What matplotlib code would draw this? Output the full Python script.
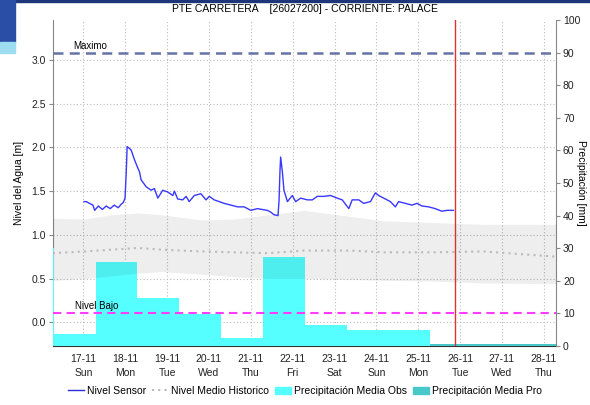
import matplotlib
matplotlib.use("Agg")
import matplotlib.pyplot as plt
import numpy as np
from matplotlib.lines import Line2D
from matplotlib.patches import Patch, Rectangle

plt.rcParams["font.family"] = ["Liberation Sans", "DejaVu Sans"]

# x positions are in days counted from 17-11 00:00
DAY_TICKS = list(range(12))
DAY_LABELS = ["17-11\nSun", "18-11\nMon", "19-11\nTue", "20-11\nWed", "21-11\nThu",
              "22-11\nFri", "23-11\nSat", "24-11\nSun", "25-11\nMon", "26-11\nTue",
              "27-11\nWed", "28-11\nThu"]

# sensor readings: hours since 17-11 00:00, level in m
SENSOR_HOURS = [0.4, 1.7, 3.5, 5.5, 6.5, 8.6, 10.9, 13.1, 15.4, 17.7, 20.0, 21.7,
                22.9, 23.9, 24.6, 25.1, 26.3, 27.4, 29.3, 30.9, 32.2, 33.1, 36.0,
                38.9, 40.7, 42.7, 45.5, 48.4, 51.3, 52.2, 54.1, 57.0, 58.9, 60.7,
                63.6, 67.4, 70.3, 72.2, 75.0, 77.9, 80.7, 84.6, 88.4, 92.2, 96.0,
                99.8, 102.5, 105.5, 107.4, 109.3, 111.6, 112.2, 112.7, 113.1, 114.1,
                115.0, 117.0, 119.8, 121.7, 124.6, 128.4, 131.3, 134.1, 137.9, 141.7,
                145.5, 148.4, 152.2, 154.1, 157.9, 160.7, 164.6, 167.4, 169.3, 172.2,
                176.0, 178.9, 180.7, 184.6, 188.4, 191.3, 194.1, 197.9, 201.7, 205.5,
                208.4, 212.2]
SENSOR_LEVEL = [1.38, 1.38, 1.36, 1.34, 1.28, 1.33, 1.29, 1.33, 1.30, 1.34, 1.31, 1.35,
                1.37, 1.42, 1.72, 2.01, 1.99, 1.97, 1.86, 1.78, 1.72, 1.63, 1.55,
                1.51, 1.53, 1.42, 1.51, 1.49, 1.45, 1.50, 1.41, 1.40, 1.44, 1.38,
                1.45, 1.47, 1.40, 1.44, 1.40, 1.38, 1.36, 1.34, 1.32, 1.32, 1.28,
                1.30, 1.29, 1.28, 1.26, 1.23, 1.22, 1.40, 1.72, 1.89, 1.72,
                1.51, 1.38, 1.45, 1.38, 1.42, 1.40, 1.40, 1.44, 1.44, 1.45,
                1.42, 1.40, 1.30, 1.40, 1.40, 1.36, 1.38, 1.48, 1.45, 1.42,
                1.38, 1.32, 1.38, 1.36, 1.34, 1.36, 1.33, 1.32, 1.30, 1.27,
                1.28, 1.28]

# historical level envelope
HIST_DAYS = [-0.73, 0.03, 0.67, 1.30, 1.86, 2.81, 3.60, 4.40, 5.27, 6.38, 7.17, 8.36, 9.55, 11.29]
HIST_UPPER = [1.19, 1.18, 1.23, 1.25, 1.23, 1.17, 1.18, 1.23, 1.28, 1.21, 1.16, 1.14, 1.12, 1.12]
HIST_LOWER = [0.48, 0.50, 0.53, 0.56, 0.58, 0.55, 0.52, 0.50, 0.50, 0.49, 0.48, 0.47, 0.45, 0.44]
HIST_MEDIAN = [0.79, 0.81, 0.83, 0.85, 0.83, 0.81, 0.80, 0.79, 0.82, 0.82, 0.80, 0.80, 0.81, 0.75]

# daily rainfall, each bar from 07:00 to 07:00
OBS_START = [-1.708, -0.708, 0.292, 1.292, 2.292, 3.292, 4.292, 5.292, 6.292, 7.292]
OBS_MM = [30.0, 3.8, 25.7, 14.6, 9.8, 2.4, 27.2, 6.5, 4.8, 4.8]
PRO_START = [8.292, 9.292, 10.292]
PRO_MM = [0.6, 0.6, 0.7]

NIVEL_MAXIMO = 3.08
NIVEL_BAJO = 0.11
NOW_DAY = 8.88

fig = plt.figure(figsize=(5.9, 4.05), dpi=100)
fig.patches.append(Rectangle((0, 1 - 2 / 405), 1, 2 / 405, transform=fig.transFigure,
                             color="#1d3579", zorder=0))
fig.patches.append(Rectangle((0, 1 - 42 / 405), 15 / 590, 42 / 405, transform=fig.transFigure,
                             color="#2a4ea6", zorder=0))
fig.patches.append(Rectangle((0, 1 - 53 / 405), 15 / 590, 11 / 405, transform=fig.transFigure,
                             color="#9edcf0", zorder=0))

rect = [53 / 590, 1 - 346 / 405, 503 / 590, 326 / 405]
ax = fig.add_axes(rect)
ax2 = ax.twinx()
ax3 = ax.twinx()

xlim = (-0.725, 11.29)
ylim = (-0.272, 3.458)
grid_kw = dict(color="#bbbbbb", lw=0.8, ls=(0, (1, 2)))

# grid on the base axes
ax.set_xlim(*xlim)
ax.set_ylim(*ylim)
ax.set_xticks(DAY_TICKS)
ax.set_xticklabels(DAY_LABELS, fontsize=7.5, color="#222222", linespacing=1.5)
ax.set_yticks(np.arange(0, 3.01, 0.5))
ax.set_yticklabels([f"{v:.1f}" for v in np.arange(0, 3.01, 0.5)], fontsize=7.5, color="#222222")
ax.grid(True, **grid_kw)
ax.tick_params(axis="x", length=0, pad=6)
ax.tick_params(axis="y", length=3, color="#888888", pad=2)
ax.spines["top"].set_visible(False)
ax.spines["right"].set_visible(False)
ax.spines["left"].set_color("#888888")
ax.spines["bottom"].set_color("#333333")
ax.spines["bottom"].set_linestyle((0, (1, 1)))
ax.set_ylabel("Nivel del Agua [m]", fontsize=7.5)
ax.yaxis.set_label_coords(-0.058, 0.5)

# rainfall bars on the right axis
ax2.bar(OBS_START, OBS_MM, width=1.0, align="edge", color="#55ffff", lw=0)
ax2.bar(PRO_START, PRO_MM, width=1.0, align="edge", color="#48c8c8", lw=0)
ax2.set_ylim(0, 100)
ax2.set_xlim(*xlim)
ax2.set_yticks(range(0, 101, 10))
ax2.tick_params(axis="y", labelsize=7.5, length=3, color="#888888", labelcolor="#222222", pad=2)
ax2.spines["right"].set_color("#888888")
for s in ("top", "left", "bottom"):
    ax2.spines[s].set_visible(False)
ax2.set_ylabel("Precipitación [mm]", fontsize=7.5, rotation=270, ha="center", va="center")
ax2.yaxis.set_label_coords(1.049, 0.5)

# levels on top
ax3.set_xlim(*xlim)
ax3.set_ylim(*ylim)
ax3.set_yticks([])
for s in ax3.spines.values():
    s.set_visible(False)
ax3.fill_between(HIST_DAYS, HIST_LOWER, HIST_UPPER, color="black", alpha=0.065, lw=0)
ax3.plot(HIST_DAYS, HIST_MEDIAN, color="#bbbbbb", lw=1.5, ls=(0, (1, 2)))
sensor_days = np.array(SENSOR_HOURS) / 24.0
ax3.plot(sensor_days, SENSOR_LEVEL, color="#3838ff", lw=1.0)
ax3.axhline(NIVEL_MAXIMO, color="#6672a6", lw=1.8, ls=(0, (4, 2.5)))
ax3.axhline(NIVEL_BAJO, color="#ff3cff", lw=1.5, ls=(0, (4, 2.5)))
ax3.text(-0.24, NIVEL_MAXIMO + 0.02, "Maximo", fontsize=7, va="bottom", ha="left")
ax3.text(-0.21, NIVEL_BAJO + 0.02, "Nivel Bajo", fontsize=7, va="bottom", ha="left")
ax3.axvline(NOW_DAY, color="#dd3333", lw=1.0)

fig.text(305 / 590, 1 - 9 / 405, "PTE CARRETERA    [26027200] - CORRIENTE: PALACE",
         fontsize=7.5, ha="center", va="center")

handles = [
    Line2D([], [], color="#2a2ad8", lw=1.0),
    Line2D([], [], color="#bbbbbb", lw=1.5, ls=(0, (1, 2))),
    Patch(color="#55ffff"),
    Patch(color="#48c8c8"),
]
labels = ["Nivel Sensor", "Nivel Medio Historico", "Precipitación Media Obs", "Precipitación Media Pro"]
fig.legend(handles, labels, loc="center", bbox_to_anchor=(0.517, 1 - 391 / 405), ncol=4,
           frameon=False, fontsize=7.5, handlelength=1.5, handletextpad=0.3, columnspacing=0.6)

fig.savefig("out.png", dpi=100)
